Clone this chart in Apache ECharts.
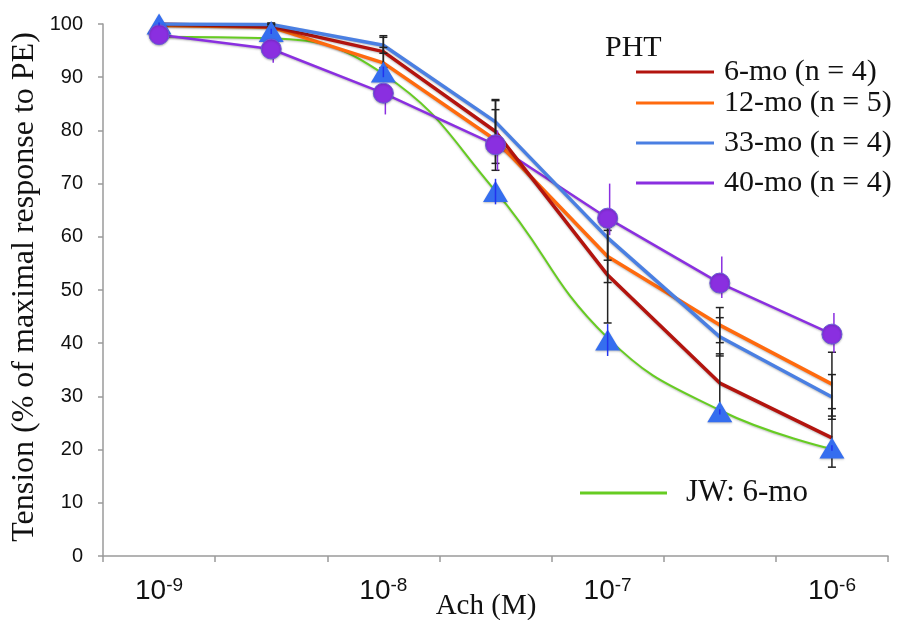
<!DOCTYPE html>
<html>
<head>
<meta charset="utf-8">
<script src="https://cdn.jsdelivr.net/npm/echarts@6/dist/echarts.min.js"></script>
<style>html,body{margin:0;padding:0;background:#fff;}#c{width:898px;height:620px;}</style>
</head>
<body>
<div id="c"></div>
<script>
// ---- data ----
const categories = ['1e-9', '3e-9', '1e-8', '3e-8', '1e-7', '3e-7', '1e-6'];
const tickBase = ['10', '', '10', '', '10', '', '10'];
const tickExp = ['-9', '', '-8', '', '-7', '', '-6'];
const yTicks = [0, 10, 20, 30, 40, 50, 60, 70, 80, 90, 100];

const mo6 = [100, 99.5, 94.8, 79.8, 52.8, 32.5, 22.2];
const mo12 = [99.7, 99.4, 92.7, 78.2, 56.3, 43.4, 32.3];
const mo33 = [100, 99.9, 96.0, 81.6, 59.8, 41.2, 29.9];
const mo40 = [98.0, 95.3, 87.0, 77.3, 63.5, 51.3, 41.7];
const jwFit = [97.6, 97.3, 90.6, 68.6, 41.0, 27.4, 20.1];
const jwPts = [100, 98.6, 91.0, 68.5, 40.6, 27.1, 20.3];

const err6 = [0.4, 0.5, 3.0, 6.0, 9.0, 5.5, 5.5];
const err12 = [0.4, 0.5, 2.9, 5.7, 4.9, 3.3, 6.0];
const err33 = [0.3, 0.3, 1.5, 4.0, 4.2, 3.6, 4.2];
const err40Up = [0.5, 0.5, 0.5, 2.7, 6.5, 5.0, 4.0];
const err40Dn = [0.5, 2.6, 4.0, 4.8, 3.2, 2.8, 3.5];
const errJW = [0.3, 0.5, 1.0, 2.4, 3.0, 0.5, 0.5];

const names = ['6-mo (n = 4)', '12-mo (n = 5)', '33-mo (n = 4)', '40-mo (n = 4)', 'JW: 6-mo'];

// ---- build ----
const C6 = '#B3140E', C12 = '#FF6A0E', C33 = '#4A7FE2', C40 = '#8A2FE0', CJW = '#66CC22', CTRI = '#356EEF';
const serif = '"Liberation Serif", "Times New Roman", serif';
const sans = '"Liberation Sans", Arial, sans-serif';

function errData(vals, up, dn) {
  return vals.map((v, i) => [i, v - dn[i], v + up[i]]);
}
function errSeries(data, color, cap, lw, dx, z) {
  return {
    type: 'custom', z: z, silent: true,
    encode: { x: 0, y: [1, 2] },
    data: data,
    renderItem: function (params, api) {
      const i = api.value(0);
      const lo = api.coord([i, api.value(1)]);
      const hi = api.coord([i, api.value(2)]);
      const x = lo[0] + dx;
      const style = { stroke: color, lineWidth: lw };
      const children = [{ type: 'line', shape: { x1: x, y1: lo[1], x2: x, y2: hi[1] }, style: style }];
      if (cap > 0) {
        children.push({ type: 'line', shape: { x1: x - cap, y1: lo[1], x2: x + cap, y2: lo[1] }, style: style });
        children.push({ type: 'line', shape: { x1: x - cap, y1: hi[1], x2: x + cap, y2: hi[1] }, style: style });
      }
      return { type: 'group', children: children };
    }
  };
}
const shadow = { shadowColor: 'rgba(0,0,0,0.25)', shadowBlur: 2, shadowOffsetY: 1 };

function legendAt(name, top, left, size, w, gap) {
  return {
    data: [name], left: left, top: top, padding: 0, icon: 'rect',
    itemWidth: w, itemHeight: 3, selectedMode: false,
    textStyle: { fontFamily: serif, fontSize: size, color: '#111', lineHeight: 32, padding: [0, 0, 0, gap] }
  };
}

const chart = echarts.init(document.getElementById('c'));
chart.setOption({
  animation: false,
  backgroundColor: '#fff',
  grid: { left: 103, top: 24, width: 785, height: 532, containLabel: false },
  legend: [
    legendAt(names[0], 72 - 16, 636, 30, 78, 5),
    legendAt(names[1], 103 - 16, 636, 30, 78, 5),
    legendAt(names[2], 143 - 16, 636, 30, 78, 5),
    legendAt(names[3], 183 - 16, 636, 30, 78, 5),
    legendAt(names[4], 493 - 16, 580, 31, 87, 14)
  ],
  xAxis: {
    type: 'category', data: categories, boundaryGap: true,
    axisLine: { lineStyle: { color: '#9a9a9a', width: 1.5 } },
    axisTick: { show: true, interval: 0, length: 6, lineStyle: { color: '#9a9a9a', width: 1.5 } },
    axisLabel: {
      interval: 0, margin: 20,
      formatter: function (v, i) { return tickBase[i] ? '{b|' + tickBase[i] + '}{s|' + tickExp[i] + '}' : ''; },
      rich: {
        b: { fontFamily: sans, fontSize: 28, color: '#111', lineHeight: 30 },
        s: { fontFamily: sans, fontSize: 19, color: '#111', lineHeight: 19, verticalAlign: 'top' }
      }
    },
    splitLine: { show: false }
  },
  yAxis: {
    type: 'value', min: yTicks[0], max: yTicks[yTicks.length - 1], interval: 10,
    axisLine: { show: true, lineStyle: { color: '#9a9a9a', width: 1.5 } },
    axisTick: { show: true, length: 5, lineStyle: { color: '#9a9a9a', width: 1.5 } },
    axisLabel: { fontFamily: sans, fontSize: 20, color: '#111', margin: 20 },
    splitLine: { show: false }
  },
  graphic: [
    { type: 'text', left: 605, top: 33, style: { text: 'PHT', font: '30px ' + serif, fill: '#111' } },
    { type: 'text', x: 25, y: 287, rotation: Math.PI / 2,
      style: { text: 'Tension (% of maximal response to PE)', font: '32px ' + serif, fill: '#111', textAlign: 'center', textVerticalAlign: 'middle' } },
    { type: 'text', x: 486, y: 606,
      style: { text: 'Ach (M)', font: '29px ' + serif, fill: '#111', textAlign: 'center', textVerticalAlign: 'middle' } }
  ],
  series: [
    { name: names[4], type: 'line', data: jwFit, smooth: 0.45, symbol: 'none', z: 2,
      lineStyle: Object.assign({ color: CJW, width: 2 }, shadow), itemStyle: { color: CJW } },
    { name: names[3], type: 'line', data: mo40, symbol: 'none', z: 3,
      lineStyle: Object.assign({ color: C40, width: 2.5 }, shadow), itemStyle: { color: C40 } },
    { name: names[1], type: 'line', data: mo12, symbol: 'none', z: 3,
      lineStyle: Object.assign({ color: C12, width: 3.5 }, shadow), itemStyle: { color: C12 } },
    { name: names[0], type: 'line', data: mo6, symbol: 'none', z: 3,
      lineStyle: Object.assign({ color: C6, width: 3.5 }, shadow), itemStyle: { color: C6 } },
    { name: names[2], type: 'line', data: mo33, symbol: 'none', z: 3,
      lineStyle: Object.assign({ color: C33, width: 3.5 }, shadow), itemStyle: { color: C33 } },
    errSeries(errData(mo6, err6, err6), '#222', 4, 1.5, 0, 4),
    errSeries(errData(mo12, err12, err12), '#222', 4, 1.5, 0, 4),
    errSeries(errData(mo33, err33, err33), '#222', 4, 1.5, 0, 4),
    errSeries(errData(mo40, err40Up, err40Dn), C40, 0, 1.5, 2, 4),
    errSeries(errData(jwPts, errJW, errJW), '#2233ee', 0, 1.5, 0, 6),
    { name: 'JW points', type: 'line', data: jwPts, symbol: 'triangle', symbolSize: [25, 21],
      lineStyle: { width: 0, opacity: 0 }, z: 5,
      itemStyle: Object.assign({ color: CTRI }, shadow) },
    { name: '40-mo points', type: 'line', data: mo40, symbol: 'circle', symbolSize: 20,
      lineStyle: { width: 0, opacity: 0 }, z: 5,
      itemStyle: Object.assign({ color: C40, borderColor: '#6a5ad8', borderWidth: 1 }, shadow) }
  ]
});
</script>
</body>
</html>
